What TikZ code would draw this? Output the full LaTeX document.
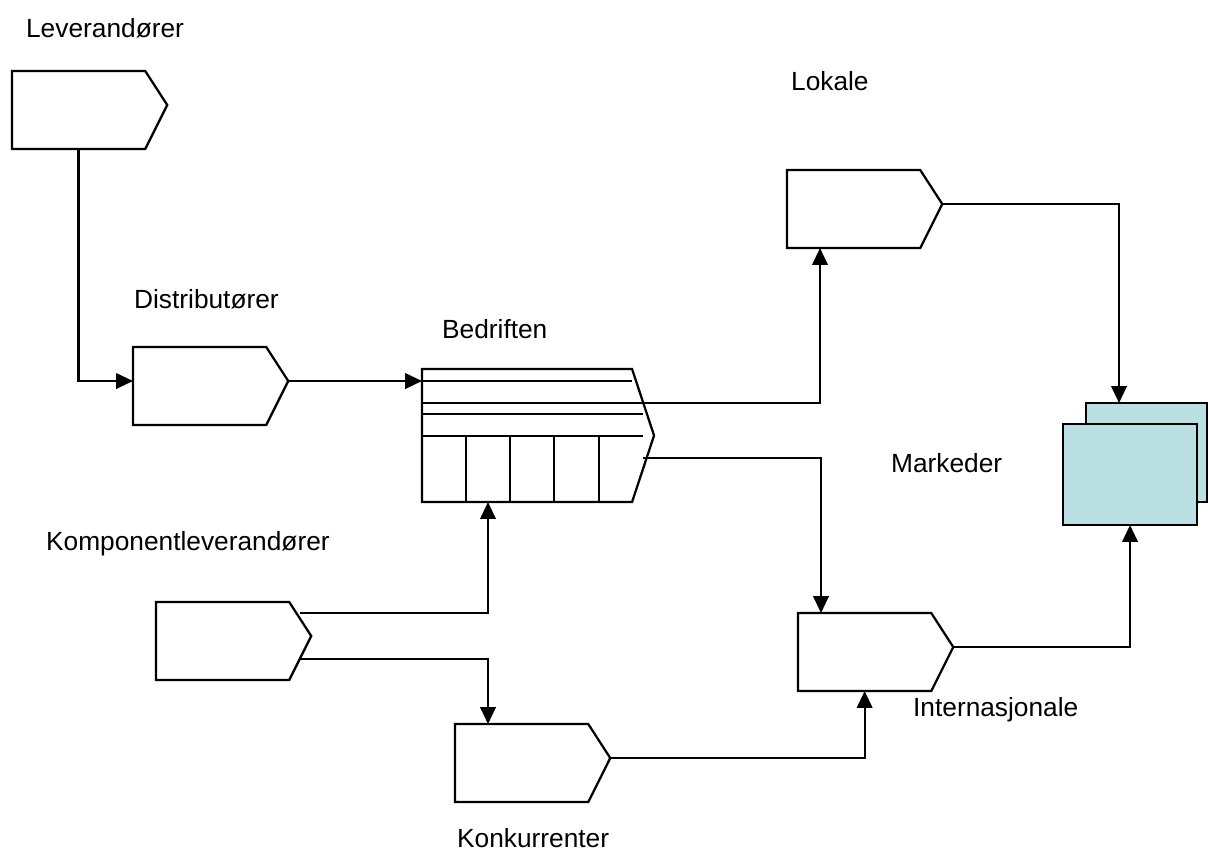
\documentclass[tikz,border=0pt]{standalone}
\usepackage{fontspec}
\setmainfont{Liberation Sans}
\usetikzlibrary{arrows.meta,calc}
\definecolor{marketfill}{RGB}{187,224,227}
\begin{document}
\begin{tikzpicture}[x=0.025cm,y=-0.025cm,
  line width=1.6pt,
  every node/.style={font=\fontsize{18.7}{22}\selectfont},
  body/.style={draw=none,inner sep=0pt,outer sep=0pt,minimum width=3.33cm,minimum height=1.95cm,anchor=north west},
  outline/.style={draw=black,line join=miter},
  conn/.style={draw=black,-{Triangle[length=12pt,width=11pt]}},
  plain/.style={draw=black},
  label/.style={anchor=base west,inner sep=0pt},
  market/.style={draw=black,fill=marketfill,inner sep=0pt,outer sep=0pt,anchor=north west}
]
\useasboundingbox (0,0) rectangle (1208,857);

% arrow-shaped boxes (body area only; outline drawn below)
\node[body] (lev) at (12,71) {};
\node[body] (dis) at (133,347) {};
\node[body] (lok) at (787,170) {};
\node[body] (int) at (798,613) {};
\node[body] (kom) at (156,602) {};
\node[body] (kon) at (455,724) {};

\foreach \n in {lev,dis,lok,int,kom,kon}{
  \draw[outline] (\n.north west) -- (\n.north east)
    -- ($(\n.east)+(22,-5)$) coordinate (\n-tip)
    -- (\n.south east) -- (\n.south west) -- cycle;
}

% the company: arrow box with a form grid
\node[body,minimum width=5.25cm,minimum height=3.325cm] (bed) at (422,369) {};
\draw[outline] (bed.north west) -- (bed.north east) -- ($(bed.east)+(22,0)$) coordinate (bed-tip)
  -- (bed.south east) -- (bed.south west) -- cycle;
\draw[plain] ($(bed.north west)+(0,12)$) -- ($(bed.north east)+(0,12)$);
\draw[plain] ($(bed.north west)+(0,45)$) -- ++(221,0);
\draw[plain] ($(bed.north west)+(0,67)$) coordinate (bed-row) -- ++(221,0);
\foreach \dx in {44,88,132,177}{
  \draw[plain] ($(bed-row)+(\dx,0)$) -- ($(bed.south west)+(\dx,0)$);
}
\coordinate (bed-out1) at ($(bed.north west)+(0,34)$);
\coordinate (bed-out2) at ($(bed.north west)+(221,89)$);

% markets: two stacked boxes
\node[market,minimum width=3.025cm,minimum height=2.475cm] (mb) at (1086,403) {};
\node[market,minimum width=3.35cm,minimum height=2.525cm] (mf) at (1063,424) {};

% connector anchor points
\coordinate (dis-in) at ($(dis.west)+(0,-5)$);
\coordinate (lok-in) at ($(lok.south west)+(33,0)$);
\coordinate (int-in) at ($(int.north west)+(23,0)$);
\coordinate (mb-in) at ($(mb.north west)+(33,0)$);
\coordinate (bed-in) at ($(bed.south west)+(66,0)$);
\coordinate (kon-in) at ($(kon.north west)+(33,0)$);
\coordinate (kom-out1) at ($(kom.north east)+(11,11)$);
\coordinate (kom-out2) at ($(kom.south east)+(11,-21)$);

% connectors
\draw[conn] (lev.south) |- (dis-in);
\draw[conn] (dis-tip) -- (bed.west |- dis-tip);
\draw[conn] (bed-out1) -| (lok-in);
\draw[conn] (bed-out2) -| (int-in);
\draw[conn] (lok-tip) -| (mb-in);
\draw[conn] (int-tip) -| (mf.south);
\draw[conn] (kom-out1) -| (bed-in);
\draw[conn] (kom-out2) -| (kon-in);
\draw[conn] (kon-tip) -| (int.south);

% labels
\node[label] (t-lev) at (25,37) {Leverandører};
\node[label] (t-lok) at (790,90) {Lokale};
\node[label] (t-dis) at (133,308) {Distributører};
\node[label] (t-bed) at (441,338) {Bedriften};
\node[label] (t-mar) at (890,472) {Markeder};
\node[label] (t-kom) at (45,550) {Komponentleverandører};
\node[label] (t-int) at (912,716) {Internasjonale};
\node[label] (t-kon) at (456,847) {Konkurrenter};
\end{tikzpicture}
\end{document}
